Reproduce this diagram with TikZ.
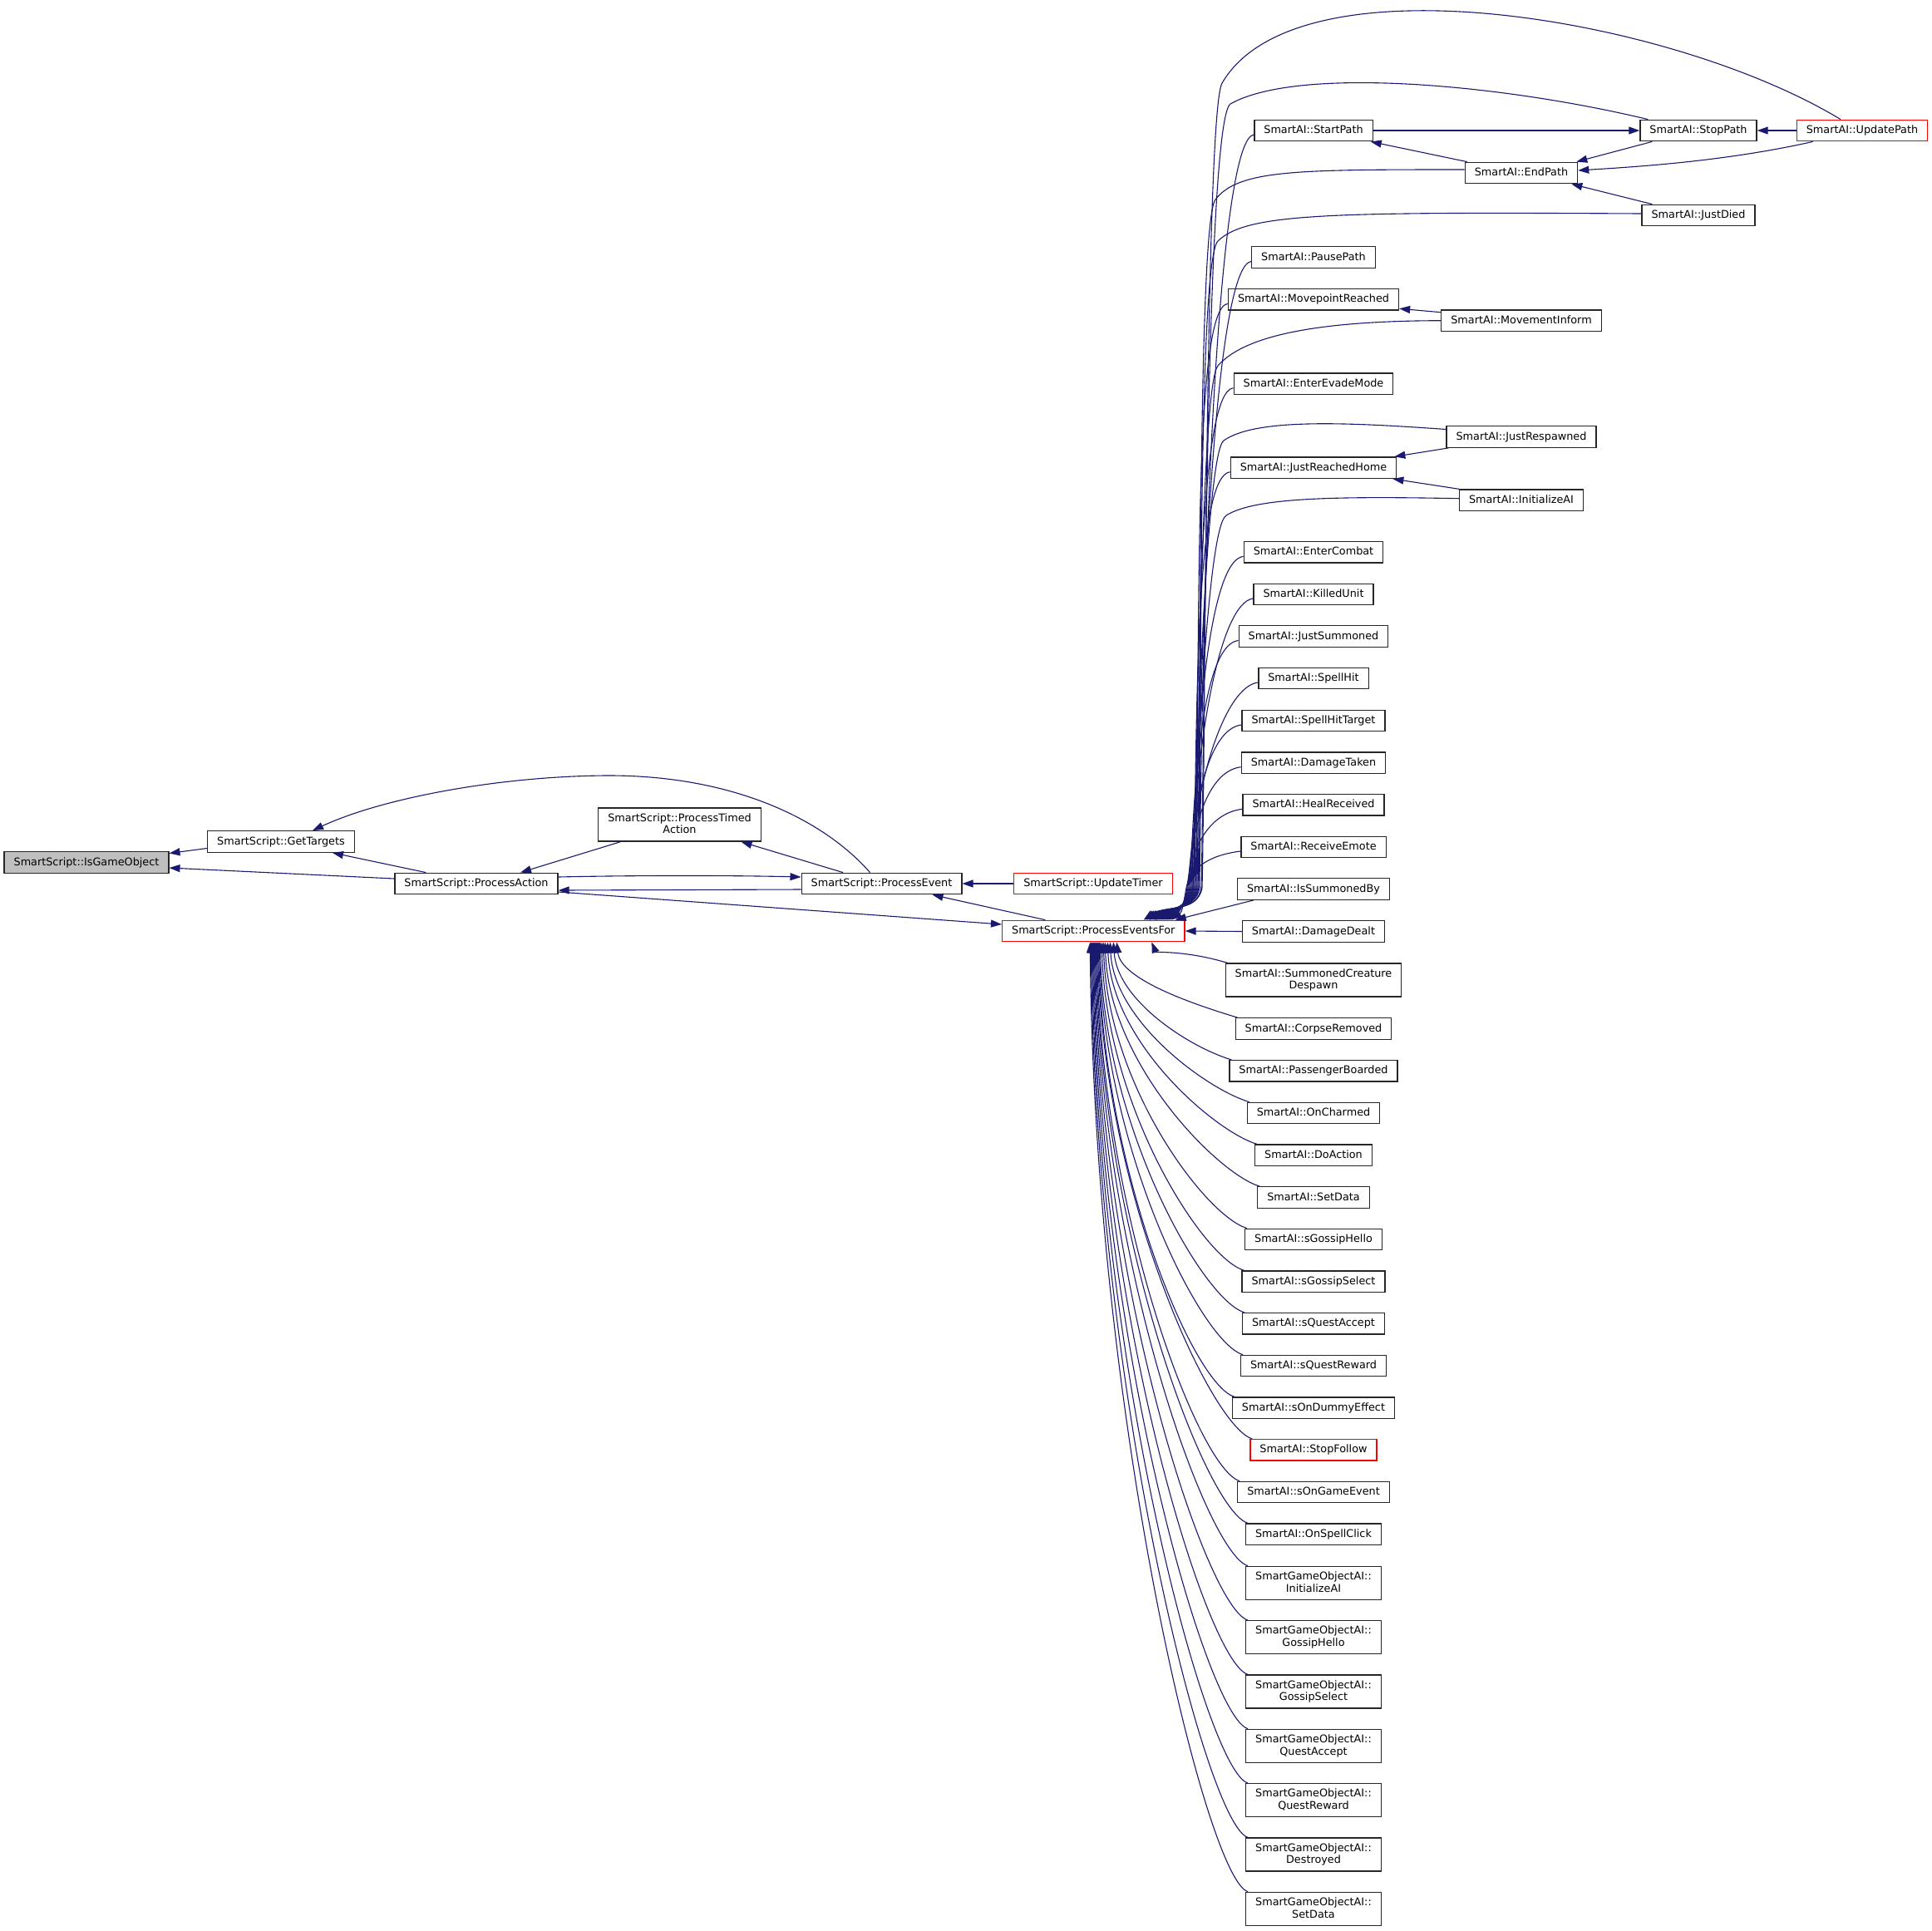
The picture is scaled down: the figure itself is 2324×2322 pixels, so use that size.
\documentclass[tikz,border=0pt]{standalone}
\usepackage{fontspec}
\setmainfont{DejaVu Sans}
\usetikzlibrary{arrows.meta,calc}
\definecolor{CallBlue}{HTML}{191970}
\definecolor{TruncRed}{HTML}{FF0000}
\definecolor{CurGrey}{HTML}{BFBFBF}
\tikzset{
  fn/.style={draw=black!85, line width=1.3pt, fill=white, inner xsep=11.5pt, inner ysep=6.75pt,
    minimum height=25.5pt, text height=9.5pt, text depth=2.5pt, align=center,
    font=\fontsize{12.8pt}{14.5pt}\selectfont},
  fnred/.style={fn, draw=TruncRed},
  twoline/.style={text height=24pt, text depth=2.5pt},
  call/.style={draw=CallBlue, line width=1.1pt, -{Triangle[length=13pt,width=9pt]}}
}
\begin{document}
\begin{tikzpicture}[x=1pt,y=-1pt]
  \useasboundingbox (0,0) rectangle (2324,2322);
  % SmartScript chain
  \node[fn, fill=CurGrey] (igo) at (104,1037.5) {SmartScript::IsGameObject};
  \node[fn] (gt) at (338,1012.5) {SmartScript::GetTargets};
  \node[fn] (pa) at (573,1063) {SmartScript::ProcessAction};
  \node[fn, twoline] (pta) at (817.5,992) {SmartScript::ProcessTimed\\Action};
  \node[fn] (pe) at (1060.5,1063) {SmartScript::ProcessEvent};
  \node[fnred] (ut) at (1315,1063) {SmartScript::UpdateTimer};
  \node[fnred] (pef) at (1315.3,1120) {SmartScript::ProcessEventsFor};
  % path handling cluster
  \node[fn] (sp) at (1580,157) {SmartAI::StartPath};
  \node[fn] (stp) at (2043,157) {SmartAI::StopPath};
  \node[fnred] (upd) at (2240,157) {SmartAI::UpdatePath};
  \node[fn] (ep) at (1830,208) {SmartAI::EndPath};
  \node[fn] (jd) at (2043,259) {SmartAI::JustDied};
  \node[fn] (mi) at (1830,385.7) {SmartAI::MovementInform};
  \node[fn] (jr) at (1830,525.5) {SmartAI::JustRespawned};
  \node[fn] (iai) at (1830,601.7) {SmartAI::InitializeAI};
  % SmartAI column
  \foreach \src/\yy/\txt in {pp/309.5/PausePath, mpr/360.3/MovepointReached,
      eem/461.7/EnterEvadeMode, jrh/562.7/JustReachedHome, ec/664.3/EnterCombat,
      ku/715/KilledUnit, js/765.5/JustSummoned, sh/816/SpellHit,
      sht/867/SpellHitTarget, dt/917.7/DamageTaken, hr/968.3/HealReceived,
      re/1019/ReceiveEmote, isb/1069.5/IsSummonedBy, dd/1120.5/DamageDealt,
      cr/1237.5/CorpseRemoved, pb/1288.3/PassengerBoarded, och/1339/OnCharmed,
      da/1389.8/DoAction, sd/1440.5/SetData, sgh/1491/sGossipHello,
      sgs/1541.7/sGossipSelect, sqa/1592.3/sQuestAccept, sqr/1643/sQuestReward,
      sode/1693.7/sOnDummyEffect, soge/1795/sOnGameEvent, osc/1845.7/OnSpellClick}
    \node[fn] (\src) at (1580,\yy) {SmartAI::\txt};
  \node[fn, twoline] (scd) at (1580,1179) {SmartAI::SummonedCreature\\Despawn};
  \node[fnred] (sf) at (1580,1744.3) {SmartAI::StopFollow};
  \foreach \src/\yy/\txt in {ginit/1904.3/InitializeAI, ghello/1969.7/GossipHello,
      gsel/2035/GossipSelect, gqa/2100.3/QuestAccept, gqr/2165.7/QuestReward,
      gdes/2231/Destroyed, gsd/2296.3/SetData}
    \node[fn, twoline] (\src) at (1580,\yy) {SmartGameObjectAI::\\\txt};

  % calls on the left
  \draw[call] ([yshift=-8pt]gt.west) -- ([yshift=11pt]igo.east);
  \draw[call] ([yshift=6pt]pa.west) -- ([yshift=-6.5pt]igo.east);
  \draw[call] ([xshift=38pt]pa.north west) -- ([xshift=-27pt]gt.south east);
  \draw[call] ([xshift=-14pt]pe.north) .. controls (990,985) and (880,932) .. (728,933)
    .. controls (600,934) and (460,960) .. ([xshift=38pt]gt.north);
  \draw[call] ([xshift=-71pt]pta.south) -- ([xshift=53pt]pa.north);
  \draw[call] ([xshift=-46.5pt]pe.north) -- ([xshift=74pt]pta.south);
  \draw[call] ([yshift=8pt]pa.east) .. controls (760,1053) and (880,1053) .. ([yshift=8pt]pe.west);
  \draw[call] ([yshift=-7pt]pe.west) -- ([yshift=-8pt]pa.east);
  \draw[call] ([yshift=-10pt]pa.east) -- ([yshift=8pt]pef.west);
  \draw[call] (ut.west) -- (pe.east);
  \draw[call] ([xshift=-58pt]pef.north) -- ([xshift=61pt]pe.south);

  % calls inside the path cluster
  \draw[call] (sp.east) -- (stp.west);
  \draw[call] ([xshift=3pt]ep.north west) -- ([xshift=-3pt]sp.south east);
  \draw[call] ([xshift=15pt]stp.south west) -- ([xshift=-2pt]ep.north east);
  \draw[call] (upd.west) -- (stp.east);
  \draw[call] ([xshift=20pt]upd.south west) .. controls (2080,193) and (1980,200) .. ([yshift=3pt]ep.east);
  \draw[call] ([xshift=13pt]jd.north west) -- ([xshift=-8pt]ep.south east);
  \draw[call] ([yshift=10pt]mi.west) -- ([yshift=-11pt]mpr.east);
  \draw[call] ([xshift=3pt]jr.south west) -- ([xshift=-3pt]jrh.north east);
  \draw[call] (iai.north west) -- ([xshift=-5pt]jrh.south east);
  \draw[call] (dd.west) -- (pef.east);

  % long calls into ProcessEventsFor from above
  \draw[call] ([xshift=-26pt]upd.north) .. controls (2010,20) and (1560,-55) .. (1470,100)
    .. controls (1450,134) and (1450,900) .. (1446,1068) to[out=-100,in=35] ([xshift=-50pt]pef.north east);
  \draw[call] ([xshift=10pt]stp.north west) .. controls (1800,100) and (1560,80) .. (1480,125)
    .. controls (1450,145) and (1449,900) .. (1445,1068) to[out=-100,in=35] ([xshift=-48pt]pef.north east);
  \draw[call] ([yshift=2pt]jd.west) .. controls (1600,255) and (1500,256) .. (1465,290)
    .. controls (1440,315) and (1446,900) .. (1442,1068) to[out=-100,in=35] ([xshift=-44pt]pef.north east);
  \draw[call] ([yshift=4pt]ep.west) .. controls (1560,204) and (1490,204) .. (1462,240)
    .. controls (1440,268) and (1445,900) .. (1441,1068) to[out=-100,in=35] ([xshift=-43pt]pef.north east);
  \draw[call] (mi.west) .. controls (1600,386) and (1500,400) .. (1465,440)
    .. controls (1445,463) and (1442,900) .. (1438,1068) to[out=-100,in=35] ([xshift=-38pt]pef.north east);
  \draw[call] ([yshift=9pt]jr.west) .. controls (1620,508) and (1510,503) .. (1472,530)
    .. controls (1450,546) and (1439,950) .. (1435,1068) to[out=-100,in=35] ([xshift=-36pt]pef.north east);
  \draw[call] ([yshift=2pt]iai.west) .. controls (1610,597) and (1510,598) .. (1475,620)
    .. controls (1452,634) and (1439,950) .. (1435,1068) to[out=-100,in=35] ([xshift=-34pt]pef.north east);
  \foreach \src/\ex/\wx in {sp/-46pt/1443, pp/-42pt/1440, mpr/-40pt/1439, eem/-37pt/1437,
      jrh/-35pt/1436, ec/-32pt/1434, ku/-30pt/1433, js/-28pt/1432, sh/-26pt/1431,
      sht/-24pt/1430, dt/-22pt/1429, hr/-20pt/1428, re/-17pt/1427}
    \draw[call] let \p1=([yshift=-5pt]\src.west) in
      (\p1) .. controls (\x1-40pt,\y1-5pt) and ({\wx pt+4pt},{-1068pt+0.5*(1068pt+(\y1))}) .. (\wx,1068)
      to[out=-100,in=35] ([xshift=\ex]pef.north east);
  \draw[call] ([xshift=20pt]isb.south west) -- ([xshift=-12pt]pef.north east);

  % long calls into ProcessEventsFor from below
  \foreach \src/\ex in {scd/70pt, cr/28pt, pb/24pt, och/20pt, da/17pt, sd/14pt, sgh/12pt,
      sgs/10pt, sqa/8pt, sqr/7pt, sode/6pt, sf/5pt, soge/4pt, osc/3pt, ginit/2pt,
      ghello/1pt, gsel/0pt, gqa/-1pt, gqr/-2pt, gdes/-3pt, gsd/-4pt}
    \draw[call] let \p1=([xshift=3pt]\src.north west), \p2=([xshift=\ex]pef.south) in
      (\p1) .. controls (\x1-50pt,\y1+15pt) and (\x2+5pt,{\y2+0.5*(\y1-(\y2))}) .. (\p2);
\end{tikzpicture}
\end{document}
